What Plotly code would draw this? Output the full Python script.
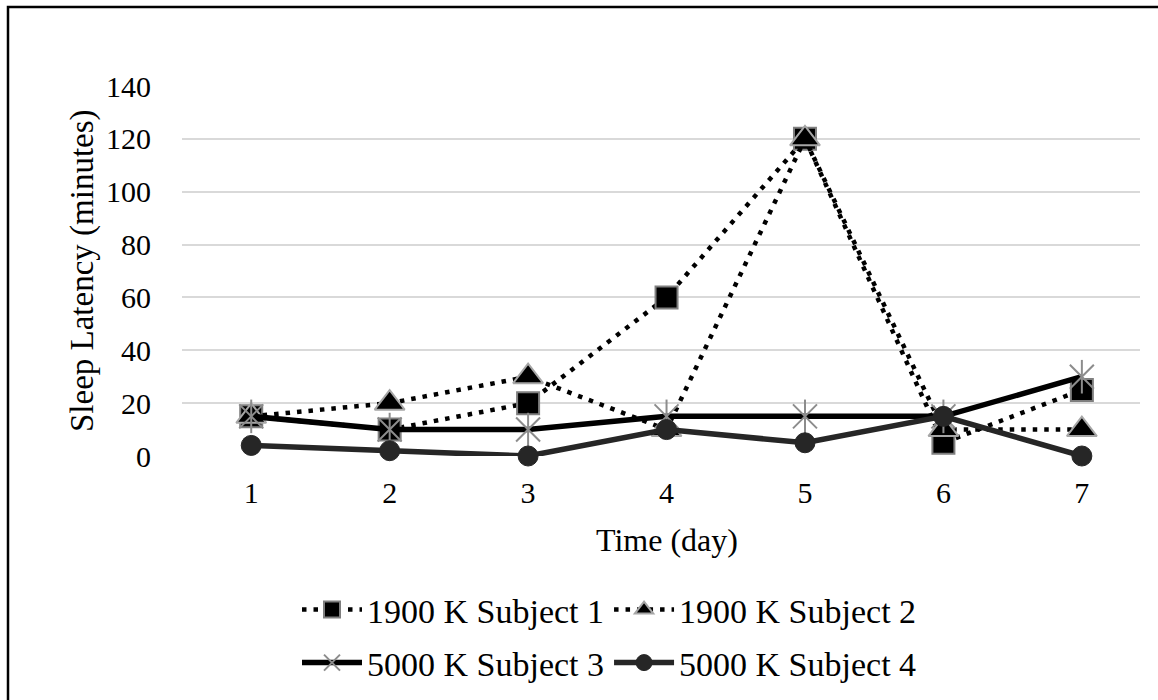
import plotly.graph_objects as go

days = [1, 2, 3, 4, 5, 6, 7]
day_labels = ["1", "2", "3", "4", "5", "6", "7"]
s1_1900 = [15, 10, 20, 60, 120, 5, 25]
s2_1900 = [15, 20, 30, 10, 120, 10, 10]
s3_5000 = [15, 10, 10, 15, 15, 15, 30]
s4_5000 = [4, 2, 0, 10, 5, 15, 0]
y_ticks = [0, 20, 40, 60, 80, 100, 120, 140]

FONT = "Liberation Serif, Times New Roman, serif"
W, H = 1158, 700
L, R, T, B = 182, 18, 86, 244
pw, ph = W - L - R, H - T - B

def px(x):
    return (x - L) / pw

def py(y):
    return (H - B - y) / ph

fig = go.Figure()

fig.add_trace(go.Scatter(
    x=days, y=s1_1900, name="1900 K Subject 1", mode="lines+markers",
    line=dict(color="black", width=4.5, dash="4.5px,7px"),
    marker=dict(symbol="square", size=22, color="black",
                line=dict(color="#7f7f7f", width=2)),
    legend="legend", cliponaxis=False,
))
fig.add_trace(go.Scatter(
    x=days, y=s2_1900, name="1900 K Subject 2", mode="lines+markers",
    line=dict(color="black", width=4.5, dash="4.5px,7px"),
    marker=dict(symbol="triangle-up", size=26, color="black",
                line=dict(color="#a6a6a6", width=2)),
    legend="legend", cliponaxis=False,
))
fig.add_trace(go.Scatter(
    x=days, y=s3_5000, name="5000 K Subject 3", mode="lines+markers",
    line=dict(color="black", width=5.5),
    marker=dict(symbol="x-thin-open", size=24, color="#8c8c8c",
                line=dict(color="#8c8c8c", width=2)),
    legend="legend2", cliponaxis=False,
))
fig.add_trace(go.Scatter(
    x=days, y=s3_5000, name="5000 K Subject 3", mode="markers", showlegend=False,
    marker=dict(symbol="line-ns-open", size=24, color="#8c8c8c",
                line=dict(color="#8c8c8c", width=2)),
    hoverinfo="skip", cliponaxis=False,
))
fig.add_trace(go.Scatter(
    x=days, y=s4_5000, name="5000 K Subject 4", mode="lines+markers",
    line=dict(color="#262626", width=5.5),
    marker=dict(symbol="circle", size=20, color="#262626",
                line=dict(color="#262626", width=1)),
    legend="legend2", cliponaxis=False,
))

fig.update_layout(
    width=W, height=H,
    margin=dict(l=L, r=R, t=T, b=B, autoexpand=False),
    paper_bgcolor="white", plot_bgcolor="white",
    font=dict(family=FONT, size=30, color="black"),
    xaxis=dict(
        range=[0.5, 7.42], tickmode="array", tickvals=days, ticktext=day_labels,
        showgrid=False, zeroline=False, showline=False, ticks="",
        ticklabelstandoff=16, tickfont=dict(size=30),
    ),
    yaxis=dict(
        range=[0, 140], tickmode="array", tickvals=y_ticks,
        showgrid=True, gridcolor="#d9d9d9", gridwidth=1.5,
        zeroline=False, showline=False, ticks="",
        ticklabelstandoff=30, tickfont=dict(size=30),
    ),
    legend=dict(
        orientation="h", x=px(297), xanchor="left", y=py(610), yanchor="middle",
        font=dict(size=34), itemwidth=60, bgcolor="rgba(0,0,0,0)",
    ),
    legend2=dict(
        orientation="h", x=px(297), xanchor="left", y=py(663), yanchor="middle",
        font=dict(size=34), itemwidth=60, bgcolor="rgba(0,0,0,0)",
    ),
    showlegend=True,
    annotations=[
        dict(text="Time (day)", x=px(667), y=py(540), xref="paper", yref="paper",
             showarrow=False, font=dict(size=32), xanchor="center", yanchor="middle"),
        dict(text="Sleep Latency (minutes)", x=px(82), y=py(271), xref="paper",
             yref="paper", showarrow=False, textangle=-90, font=dict(size=33),
             xanchor="center", yanchor="middle"),
    ],
    shapes=[
        dict(type="rect", xref="paper", yref="paper",
             x0=px(8), x1=px(1200), y0=py(760), y1=py(7),
             line=dict(color="black", width=2.5), fillcolor="rgba(0,0,0,0)", layer="below"),
    ],
)

fig.write_html("out.html")
